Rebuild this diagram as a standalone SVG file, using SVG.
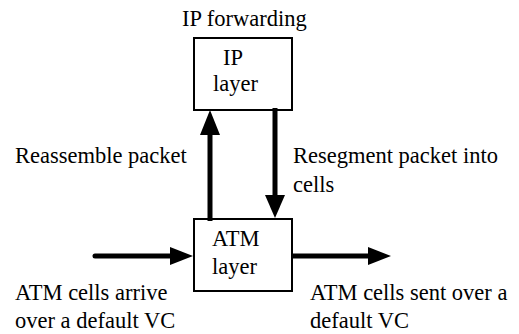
<svg xmlns="http://www.w3.org/2000/svg" width="519" height="334" viewBox="0 0 519 334">
<style>
.t{font-family:'Liberation Serif','Times New Roman','DejaVu Serif',serif;font-size:22.5px;fill:#000}
.box{fill:#fff;stroke:#000;stroke-width:2}
.ln{stroke:#000;stroke-width:5;fill:none}
.hd{fill:#000;stroke:none}
</style>
<rect width="519" height="334" fill="#fff"/>
<g class="t" font-family="Liberation Serif, Times New Roman, serif" font-size="22.5">
<text x="182" y="26">IP forwarding</text>
<g id="ip">
<rect class="box" x="194" y="38" width="98" height="72"/>
<text x="223" y="65">IP</text>
<text x="213" y="91">layer</text>
</g>
<g id="atm">
<rect class="box" x="194" y="219" width="98" height="72"/>
<text x="212" y="246">ATM</text>
<text x="212" y="274">layer</text>
</g>
<g id="connectors">
<line class="ln" x1="210" y1="221" x2="210" y2="132"/>
<polygon class="hd" points="210,110 200,135 220,135"/>
<line class="ln" x1="275" y1="108" x2="275" y2="197"/>
<polygon class="hd" points="275,218 265,195 285,195"/>
<line class="ln" x1="95" y1="256" x2="172" y2="256" stroke-linecap="round"/>
<polygon class="hd" points="193,256 170,247 170,265"/>
<line class="ln" x1="292" y1="256" x2="370" y2="256"/>
<polygon class="hd" points="391,256 368,247 368,265"/>
</g>
<text x="15" y="163">Reassemble packet</text>
<text x="293" y="163">Resegment packet into</text>
<text x="293" y="192">cells</text>
<text x="15" y="300">ATM cells arrive</text>
<text x="15" y="328">over a default VC</text>
<text x="310" y="300">ATM cells sent over a</text>
<text x="310" y="328">default VC</text>
</g>
</svg>
